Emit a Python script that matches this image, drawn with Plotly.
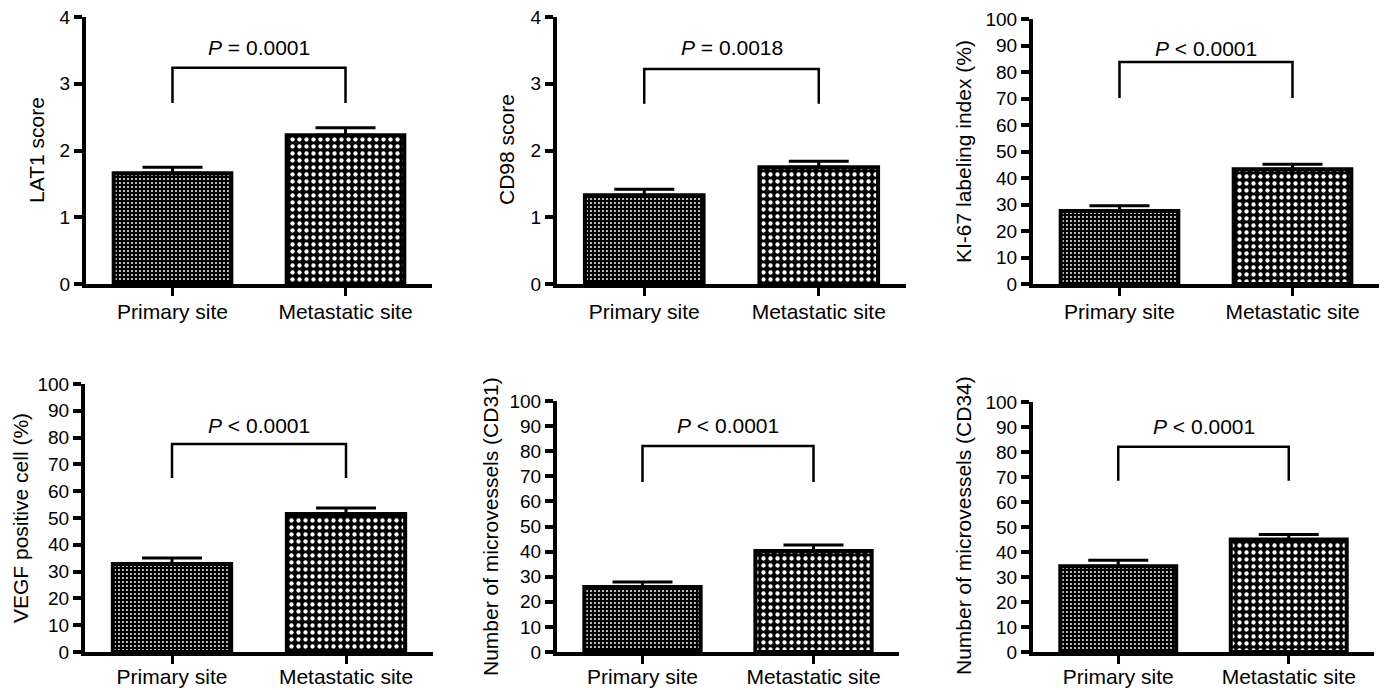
import plotly.graph_objects as go

W, H = 1388, 690

categories = ["Primary site", "Metastatic site"]

lat1_mean = [1.66, 2.23]
lat1_sem = [0.09, 0.11]
cd98_mean = [1.33, 1.75]
cd98_sem = [0.09, 0.09]
ki67_mean = [27.5, 43.3]
ki67_sem = [2.0, 1.9]
vegf_mean = [32.8, 51.5]
vegf_sem = [2.3, 2.2]
cd31_mean = [25.9, 40.2]
cd31_sem = [2.0, 2.4]
cd34_mean = [34.3, 45.0]
cd34_sem = [2.4, 2.0]

y_titles = ["LAT1 score", "CD98 score", "KI-67 labeling index (%)",
            "VEGF positive cell (%)", "Number of microvessels (CD31)",
            "Number of microvessels (CD34)"]
p_labels = ["<i>P</i> = 0.0001", "<i>P</i> = 0.0018", "<i>P</i> < 0.0001",
            "<i>P</i> < 0.0001", "<i>P</i> < 0.0001", "<i>P</i> < 0.0001"]
y_max = [4, 4, 100, 100, 100, 100]
y_step = [1, 1, 10, 10, 10, 10]

means = [lat1_mean, cd98_mean, ki67_mean, vegf_mean, cd31_mean, cd34_mean]
sems = [lat1_sem, cd98_sem, ki67_sem, vegf_sem, cd31_sem, cd34_sem]

# layout (pixels)
x_dom_px = [(86, 432), (557, 906), (1033, 1379), (85, 433), (557, 899), (1033, 1374)]
y_dom_px = [(284, 17), (284, 17), (284, 19), (652, 384), (652, 401), (652, 402)]
label_standoff = [-2, -2, -2, -5, -5, -5]
bracket_lo = [2.71, 2.70, 70.2, 64.9, 67.7, 68.5]
bracket_hi = [3.24, 3.22, 83.8, 77.6, 82.1, 82.1]
p_text_y = [3.54, 3.54, 89.0, 84.7, 90.4, 90.4]
title_px = [(37, 150), (507, 150), (963, 152), (20, 518), (490, 526), (963, 526)]

FONT = "Liberation Sans, Arial, Helvetica, sans-serif"

patterns = [
    dict(shape=".", fgcolor="white", bgcolor="black", size=4, solidity=0.18),
    dict(shape=".", fgcolor="white", bgcolor="black", size=7, solidity=0.3),
]

fig = go.Figure()
layout = dict(
    template="none",
    width=W, height=H, margin=dict(l=0, r=0, t=0, b=0, autoexpand=False),
    paper_bgcolor="white", plot_bgcolor="white", showlegend=False,
    font=dict(family=FONT, color="black", size=21),
)
annotations = []
shapes = []

for i in range(6):
    s = "" if i == 0 else str(i + 1)
    xa, ya = "x" + s, "y" + s
    for j in range(2):
        fig.add_trace(go.Bar(
            x=[categories[j]], y=[means[i][j]], xaxis=xa, yaxis=ya,
            width=0.68,
            marker=dict(color="black", line=dict(color="black", width=4),
                        pattern=patterns[j]),
            error_y=dict(type="data", symmetric=False, array=[sems[i][j]],
                         arrayminus=[0], color="black", thickness=3, width=30),
        ))
    # significance bracket
    fig.add_trace(go.Scatter(
        x=[categories[0], categories[0], categories[1], categories[1]],
        y=[bracket_lo[i], bracket_hi[i], bracket_hi[i], bracket_lo[i]],
        mode="lines", line=dict(color="black", width=2.5), xaxis=xa, yaxis=ya,
        hoverinfo="skip",
    ))
    annotations.append(dict(
        x=0.5, y=p_text_y[i], xref=xa, yref=ya, text=p_labels[i],
        showarrow=False, font=dict(size=21, family=FONT), xanchor="center",
        yanchor="middle",
    ))
    tx, ty = title_px[i]
    annotations.append(dict(
        x=tx / W, y=1 - ty / H, xref="paper", yref="paper", text=y_titles[i],
        textangle=-90, showarrow=False, font=dict(size=21, family=FONT),
        xanchor="center", yanchor="middle",
    ))
    x0, x1 = x_dom_px[i]
    yb, yt = y_dom_px[i]
    layout["xaxis" + s] = dict(
        domain=[x0 / W, x1 / W], anchor=ya, type="category",
        range=[-0.5, 1.5], showline=True, linecolor="black", linewidth=4,
        ticks="outside", ticklen=8, tickwidth=3, tickcolor="black",
        showgrid=False, zeroline=False, tickfont=dict(size=21, family=FONT),
        ticklabelstandoff=label_standoff[i],
        fixedrange=True, automargin=False,
    )
    layout["yaxis" + s] = dict(
        domain=[1 - yb / H, 1 - yt / H], anchor=xa, range=[0, y_max[i]],
        tickmode="linear", tick0=0, dtick=y_step[i],
        showline=True, linecolor="black", linewidth=4,
        ticks="outside", ticklen=8, tickwidth=3.5, tickcolor="black",
        showgrid=False, zeroline=False, tickfont=dict(size=19, family=FONT),
        fixedrange=True, automargin=False,
    )
    # small extension of x-axis line to the left of the y-axis
    shapes.append(dict(
        type="line", xref=xa + " domain", yref=ya, x0=-9 / (x1 - x0), x1=0,
        y0=0, y1=0, line=dict(color="black", width=4),
    ))

layout["annotations"] = annotations
layout["shapes"] = shapes
fig.update_layout(**layout)
fig.write_html(
    "out.html",
    config={"displayModeBar": False},
    post_script="document.body.style.margin='0px';document.body.style.overflow='hidden';",
)
